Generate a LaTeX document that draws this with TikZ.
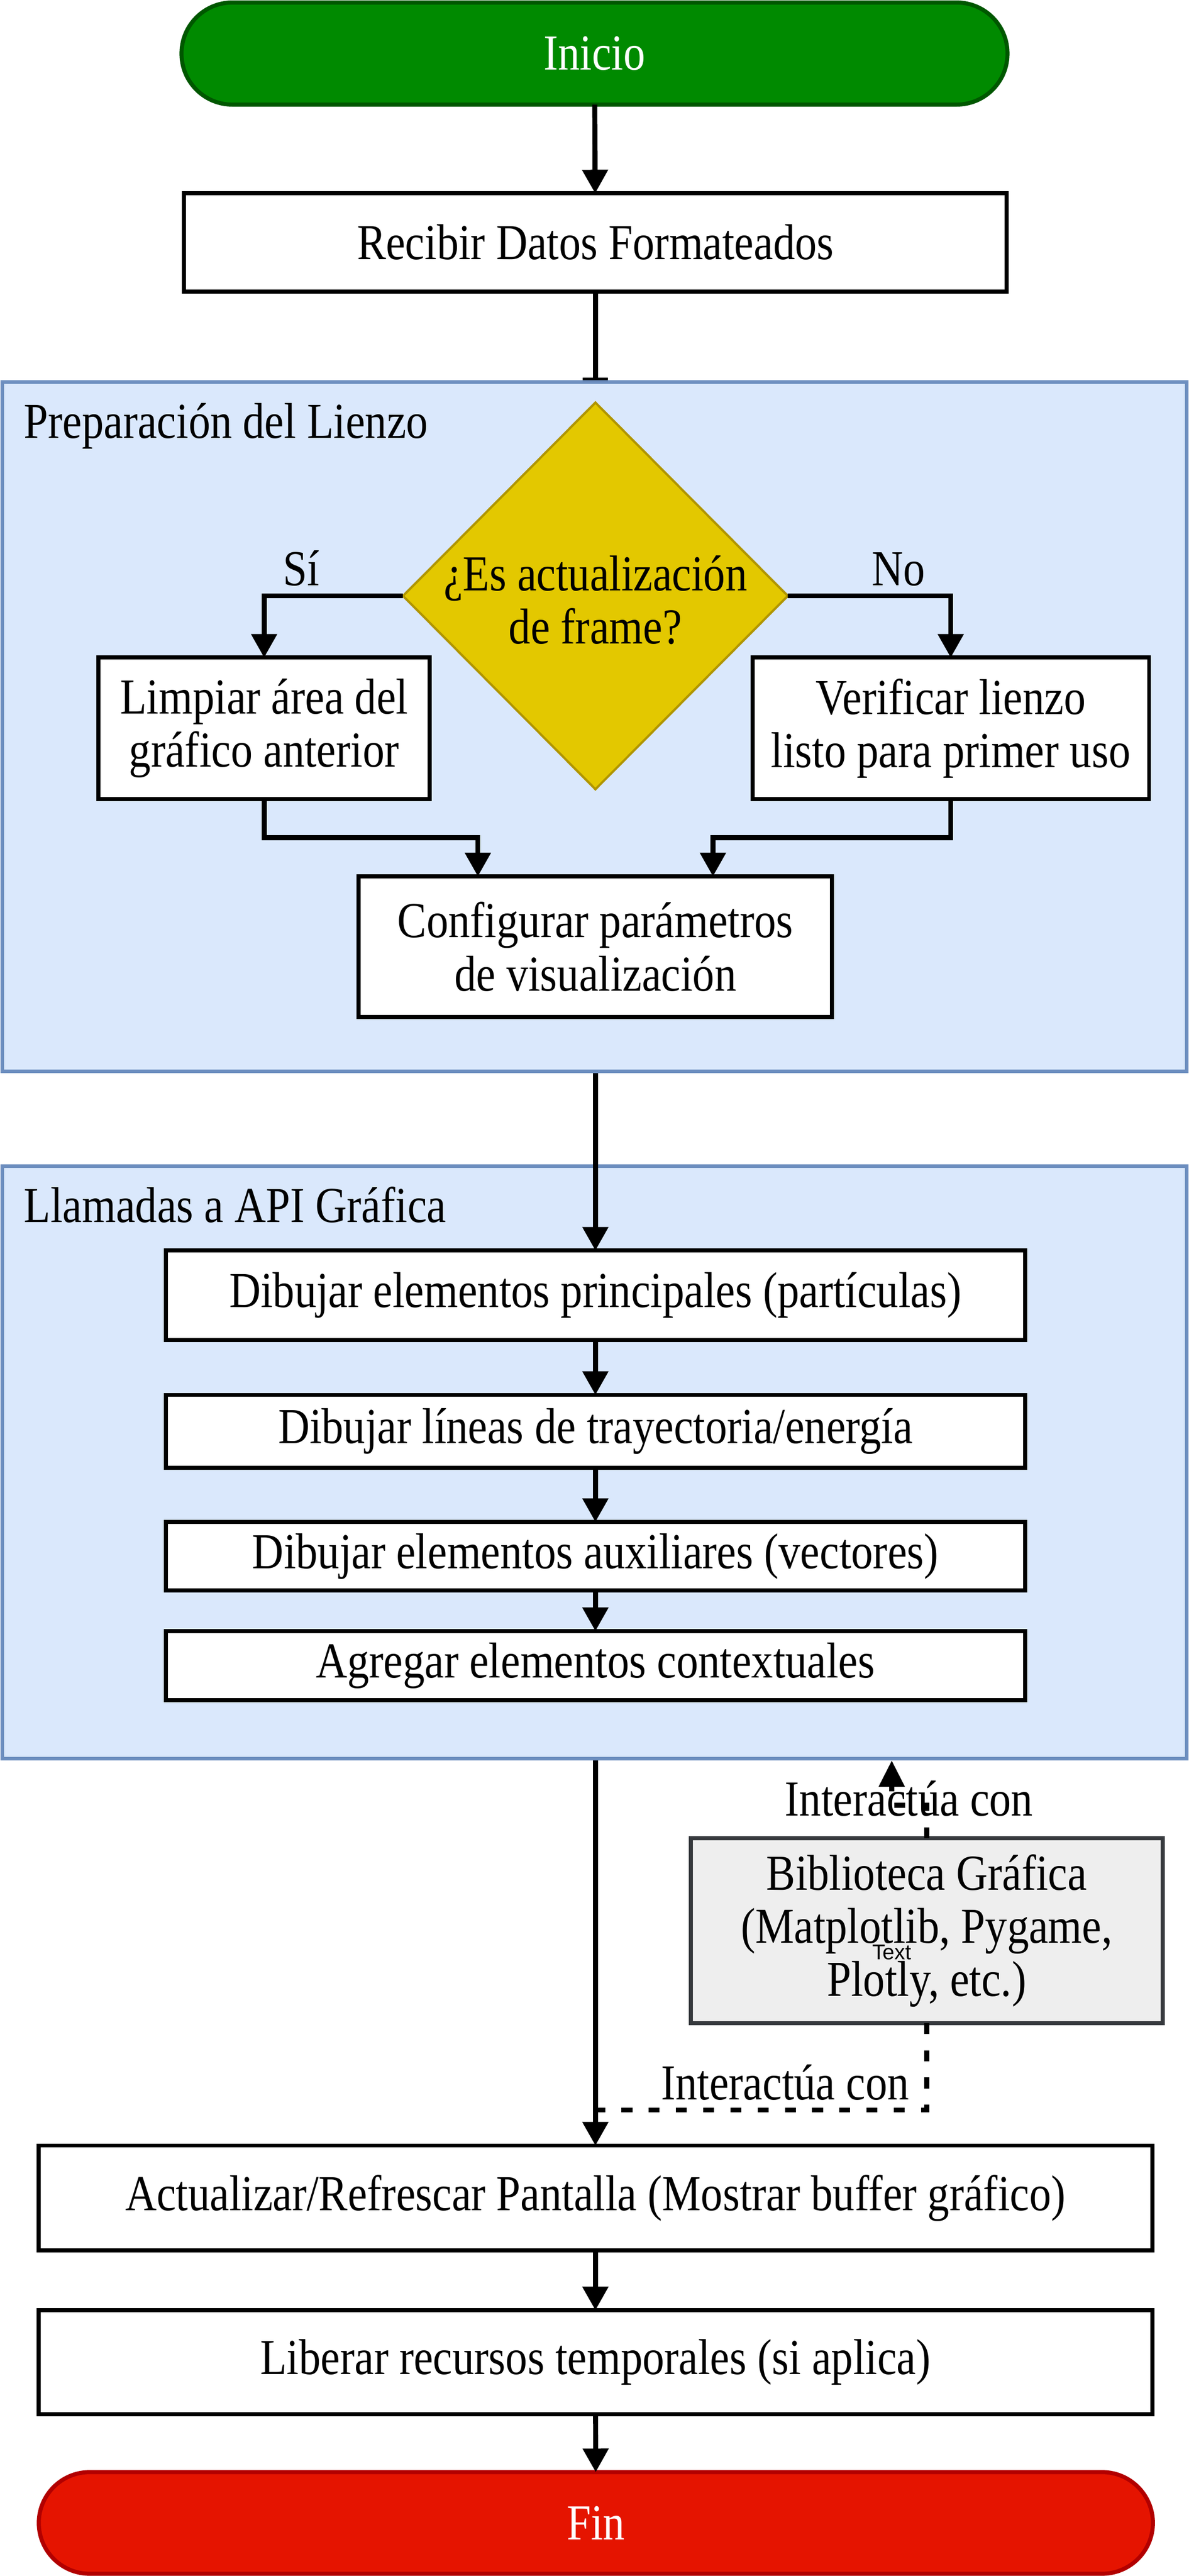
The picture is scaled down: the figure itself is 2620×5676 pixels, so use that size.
\documentclass[tikz,border=0pt]{standalone}
\usepackage{fontspec}
\setmainfont{Liberation Serif}[FakeStretch=0.865]
\newfontfamily\smallsans{Liberation Sans}
\usetikzlibrary{arrows.meta,shapes.geometric}
\definecolor{clfill}{HTML}{DAE8FC}
\definecolor{cldraw}{HTML}{6C8EBF}
\definecolor{ginfill}{HTML}{008A00}
\definecolor{gindraw}{HTML}{005700}
\definecolor{finfill}{HTML}{E51400}
\definecolor{findraw}{HTML}{B20000}
\definecolor{decfill}{HTML}{E3C800}
\definecolor{decdraw}{HTML}{B09500}
\definecolor{libfill}{HTML}{EEEEEE}
\definecolor{libdraw}{HTML}{36393D}
\begin{document}
\begin{tikzpicture}[x=1pt,y=-1pt,
  base/.style={font=\fontsize{111}{117}\selectfont, align=center, inner sep=0pt, outer sep=0pt},
  box/.style={base, rectangle, draw=black, fill=white, line width=9pt},
  term/.style={base, rectangle, rounded corners=112pt, line width=9pt, text=white},
  flow/.style={line width=11pt, -{Triangle[width=55pt,length=52pt]}},
  plainflow/.style={line width=11pt},
  dashflow/.style={line width=11pt, dash pattern=on 24pt off 36pt},
  dashtip/.style={dashflow, -{Triangle[width=55pt,length=58pt]}},
  cluster/.style={draw=cldraw, fill=clfill, line width=8pt},
  lbl/.style={base, anchor=base}]
\useasboundingbox (0,0) rectangle (2620,5676);
\fill[white] (0,0) rectangle (2620,5676);

% clusters
\draw[cluster] (5,842) rectangle (2615,2361);
\draw[cluster] (5,2569) rectangle (2615,3875);
\node[lbl, anchor=base west] (lab1) at (53,965) {Preparación del Lienzo};
\node[lbl, anchor=base west] (lab2) at (53,2693) {Llamadas a API Gráfica};

% nodes
\node[term, draw=gindraw, fill=ginfill, minimum width=1820pt, minimum height=225pt] (inicio) at (1310,118) {Inicio};
\node[box, minimum width=1813pt, minimum height=216pt] (recibir) at (1312,534) {Recibir Datos Formateados};
\node[diamond, draw=decdraw, fill=decfill, line width=5pt, inner sep=0pt, outer sep=0pt, minimum width=848pt, minimum height=852pt] (dec) at (1312,1313) {};
\node[base] (dectext) at (1312,1322) {¿Es actualización\\de frame?};
\node[box, minimum width=730pt, minimum height=312pt] (limpiar) at (582,1605) {Limpiar área del\\gráfico anterior};
\node[box, minimum width=874pt, minimum height=312pt] (verificar) at (2095,1605) {Verificar lienzo\\listo para primer uso};
\node[box, minimum width=1043pt, minimum height=310pt] (config) at (1312,2086) {Configurar parámetros\\de visualización};
\node[box, minimum width=1893pt, minimum height=197pt] (d1) at (1312,2854) {Dibujar elementos principales (partículas)};
\node[box, minimum width=1893pt, minimum height=161pt] (d2) at (1312,3154) {Dibujar líneas de trayectoria/energía};
\node[box, minimum width=1893pt, minimum height=151pt] (d3) at (1312,3429) {Dibujar elementos auxiliares (vectores)};
\node[box, minimum width=1893pt, minimum height=152pt] (d4) at (1312,3670) {Agregar elementos contextuales};
\node[box, draw=libdraw, fill=libfill, minimum width=1040pt, minimum height=407pt] (bib) at (2042,4254) {Biblioteca Gráfica\\(Matplotlib, Pygame,\\Plotly, etc.)};
\node[anchor=base, inner sep=0pt, font=\smallsans\fontsize{47}{47}\selectfont] (txt) at (1965,4318) {Text};
\node[box, minimum width=2454pt, minimum height=231pt] (act) at (1312,4843) {Actualizar/Refrescar Pantalla (Mostrar buffer gráfico)};
\node[box, minimum width=2454pt, minimum height=229pt] (lib) at (1312,5205) {Liberar recursos temporales (si aplica)};
\node[term, draw=findraw, fill=finfill, minimum width=2455pt, minimum height=224pt] (fin) at (1313,5559) {Fin};

% helper coordinates
\coordinate (c1top) at (1312,838);
\coordinate (c1bot) at (1312,2365);
\coordinate (c2bot) at (1312,3879);
\coordinate (c2up) at (1965,3879);
\coordinate (lj) at (1053,1846);
\coordinate (rj) at (1571,1846);
\coordinate (uj) at (2042,3978);
\coordinate (uk) at (1965,3978);
\coordinate (dj) at (2042,4649);
\coordinate (dk) at (1312,4649);

% edges
\draw[flow] (inicio) -- (recibir);
\draw[plainflow] (recibir) -- (c1top);
\fill (1284,832) rectangle (1339,838);
\draw[flow] (dec.west) -| (limpiar.north);
\draw[flow] (dec.east) -| (verificar.north);
\draw[flow] (limpiar.south) |- (lj) -- (lj |- config.north);
\draw[flow] (verificar.south) |- (rj) -- (rj |- config.north);
\draw[flow] (c1bot) -- (d1.north);
\draw[flow] (d1) -- (d2);
\draw[flow] (d2) -- (d3);
\draw[flow] (d3) -- (d4);
\draw[flow] (c2bot) -- (act.north);
\draw[dashtip] (bib.north) -- (uj) -- (uk) -- (c2up);
\draw[dashflow] (bib.south) -- (dj) -- (dk);
\draw[flow] (act) -- (lib);
\draw[flow] (lib) -- (fin);

% edge labels
\node[lbl] (si) at (664,1290) {Sí};
\node[lbl] (no) at (1980,1290) {No};
\node[lbl] (int1) at (2003,4001) {Interactúa con};
\node[lbl] (int2) at (1730,4627) {Interactúa con};
\end{tikzpicture}
\end{document}
